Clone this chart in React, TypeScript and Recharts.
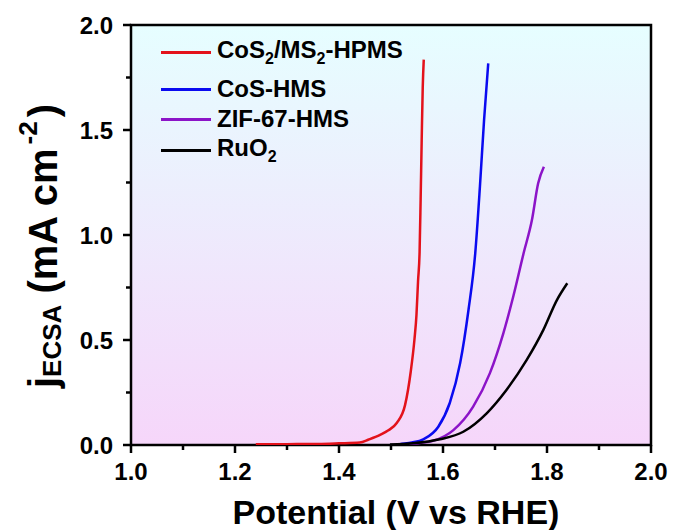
import { Legend, Line, LineChart, ReferenceArea, XAxis, YAxis } from "recharts";

const FONT = "'Liberation Sans', Arial, sans-serif";

// legend labels: even parts normal, odd parts subscript
const SERIES_NAMES = ["CoS2/MS2-HPMS", "CoS-HMS", "ZIF-67-HMS", "RuO2"];
const LABEL_PARTS = [["CoS", "2", "/MS", "2", "-HPMS"], ["CoS-HMS"], ["ZIF-67-HMS"], ["RuO", "2"]];
const SERIES_COLORS = ["#e3121b", "#0a0af0", "#8c14c8", "#000000"];

const hpmsV = [1.24, 1.3, 1.36, 1.4, 1.44, 1.457, 1.479, 1.495, 1.511, 1.527, 1.538, 1.545, 1.549, 1.552, 1.555, 1.557, 1.559, 1.561, 1.563];
const hpmsJ = [0.003, 0.004, 0.005, 0.008, 0.012, 0.026, 0.048, 0.07, 0.105, 0.19, 0.35, 0.5, 0.62, 0.78, 0.92, 1.17, 1.45, 1.7, 1.835];

const cosV = [1.51, 1.517, 1.54, 1.562, 1.591, 1.613, 1.633, 1.649, 1.662, 1.671, 1.679, 1.687];
const cosJ = [0.001, 0.004, 0.012, 0.027, 0.087, 0.2, 0.39, 0.643, 0.913, 1.23, 1.548, 1.817];

const zifV = [1.53, 1.555, 1.581, 1.62, 1.658, 1.69, 1.716, 1.735, 1.755, 1.771, 1.783, 1.794];
const zifJ = [0.003, 0.01, 0.02, 0.071, 0.183, 0.341, 0.532, 0.706, 0.913, 1.071, 1.246, 1.325];

const ruoV = [1.498, 1.543, 1.594, 1.639, 1.684, 1.722, 1.761, 1.793, 1.819, 1.839];
const ruoJ = [0.002, 0.008, 0.027, 0.063, 0.151, 0.262, 0.405, 0.548, 0.69, 0.77];

const X_TICKS = [1.0, 1.1, 1.2, 1.3, 1.4, 1.5, 1.6, 1.7, 1.8, 1.9, 2.0];
const Y_TICKS = [0, 0.25, 0.5, 0.75, 1.0, 1.25, 1.5, 1.75, 2.0];

const zip = (vs: number[], js: number[]) => vs.map((v, i) => ({ v, j: js[i] }));
const SERIES = [zip(hpmsV, hpmsJ), zip(cosV, cosJ), zip(zifV, zifJ), zip(ruoV, ruoJ)];

function XTick({ x, y, payload }: any) {
  const v = payload.value;
  const major = Math.round(v * 10) % 2 === 0;
  return (
    <g>
      <line x1={x} x2={x} y1={y} y2={y + (major ? 8 : 5)} stroke="#000" strokeWidth={2.5} />
      {major && (
        <text x={x} y={y + 35} textAnchor="middle" fontSize={24} fontWeight="bold" fontFamily={FONT} fill="#000">
          {v.toFixed(1)}
        </text>
      )}
    </g>
  );
}

function YTick({ x, y, payload }: any) {
  const v = payload.value;
  const major = Math.round(v * 100) % 50 === 0;
  return (
    <g>
      <line x1={x} x2={x - (major ? 8 : 5)} y1={y} y2={y} stroke="#000" strokeWidth={2.5} />
      {major && (
        <text x={x - 18} y={y + 8.5} textAnchor="end" fontSize={24} fontWeight="bold" fontFamily={FONT} fill="#000">
          {v.toFixed(1)}
        </text>
      )}
    </g>
  );
}

const ROW_GAP = [0, 7, 0, 1];

// drawn in series order, whatever order the legend payload comes in
function LegendBox() {
  return (
    <div style={{ fontFamily: FONT, fontWeight: 700, fontSize: 24, color: "#000" }}>
      {SERIES_NAMES.map((name, i) => (
        <div key={name} style={{ display: "flex", alignItems: "center", height: 30, marginTop: ROW_GAP[i] }}>
          <span style={{ display: "inline-block", width: 50, height: 3, background: SERIES_COLORS[i], marginRight: 6 }} />
          <span>
            {LABEL_PARTS[i].map((t, k) =>
              k % 2 ? (
                <sub key={k} style={{ fontSize: 16 }}>{t}</sub>
              ) : (
                <span key={k}>{t}</span>
              )
            )}
          </span>
        </div>
      ))}
    </div>
  );
}

export default function App() {
  return (
    <div style={{ position: "absolute", left: 0, top: 0, background: "#fff" }}>
      <LineChart width={673} height={530} margin={{ top: 25, right: 22, bottom: 0, left: 0 }}>
        <defs>
          <linearGradient id="bg" x1="0" y1="0" x2="0" y2="1">
            <stop offset="0%" stopColor="#e6feff" />
            <stop offset="100%" stopColor="#f6d6fa" />
          </linearGradient>
        </defs>
        <XAxis
          type="number"
          dataKey="v"
          domain={[1, 2]}
          ticks={X_TICKS}
          interval={0}
          allowDataOverflow
          height={85}
          axisLine={false}
          tickLine={false}
          tickSize={0}
          tickMargin={0}
          tick={<XTick />}
          label={{
            content: () => (
              <text x={396} y={524} textAnchor="middle" fontSize={34} fontWeight="bold" fontFamily={FONT} fill="#000">
                Potential (V vs RHE)
              </text>
            ),
          }}
        />
        <YAxis
          type="number"
          domain={[0, 2]}
          ticks={Y_TICKS}
          interval={0}
          allowDataOverflow
          width={131}
          axisLine={false}
          tickLine={false}
          tickSize={0}
          tickMargin={0}
          tick={<YTick />}
          label={{
            content: () => (
              <text
                x={57}
                y={246}
                transform="rotate(-90 57 246)"
                textAnchor="middle"
                fontSize={40}
                fontWeight="bold"
                fontFamily={FONT}
                fill="#000"
              >
                <tspan>j</tspan>
                <tspan fontSize={26} dy={4}>ECSA</tspan>
                <tspan fontSize={40} dy={-4}> (mA cm</tspan>
                <tspan fontSize={26} dx={4} dy={-20}>-2</tspan>
                <tspan fontSize={40} dx={4} dy={20}>)</tspan>
              </text>
            ),
          }}
        />
        <ReferenceArea x1={1} x2={2} y1={0} y2={2} fill="url(#bg)" fillOpacity={1} stroke="#000" strokeWidth={2.5} />
        {SERIES.map((d, i) => (
          <Line
            key={SERIES_NAMES[i]}
            data={d}
            dataKey="j"
            name={SERIES_NAMES[i]}
            type="monotone"
            stroke={SERIES_COLORS[i]}
            strokeWidth={2.5}
            dot={false}
            isAnimationActive={false}
          />
        ))}
        <Legend
          layout="vertical"
          align="center"
          verticalAlign="middle"
          content={<LegendBox />}
          wrapperStyle={{ position: "absolute", left: 161, top: 37, width: 280 }}
        />
      </LineChart>
    </div>
  );
}
